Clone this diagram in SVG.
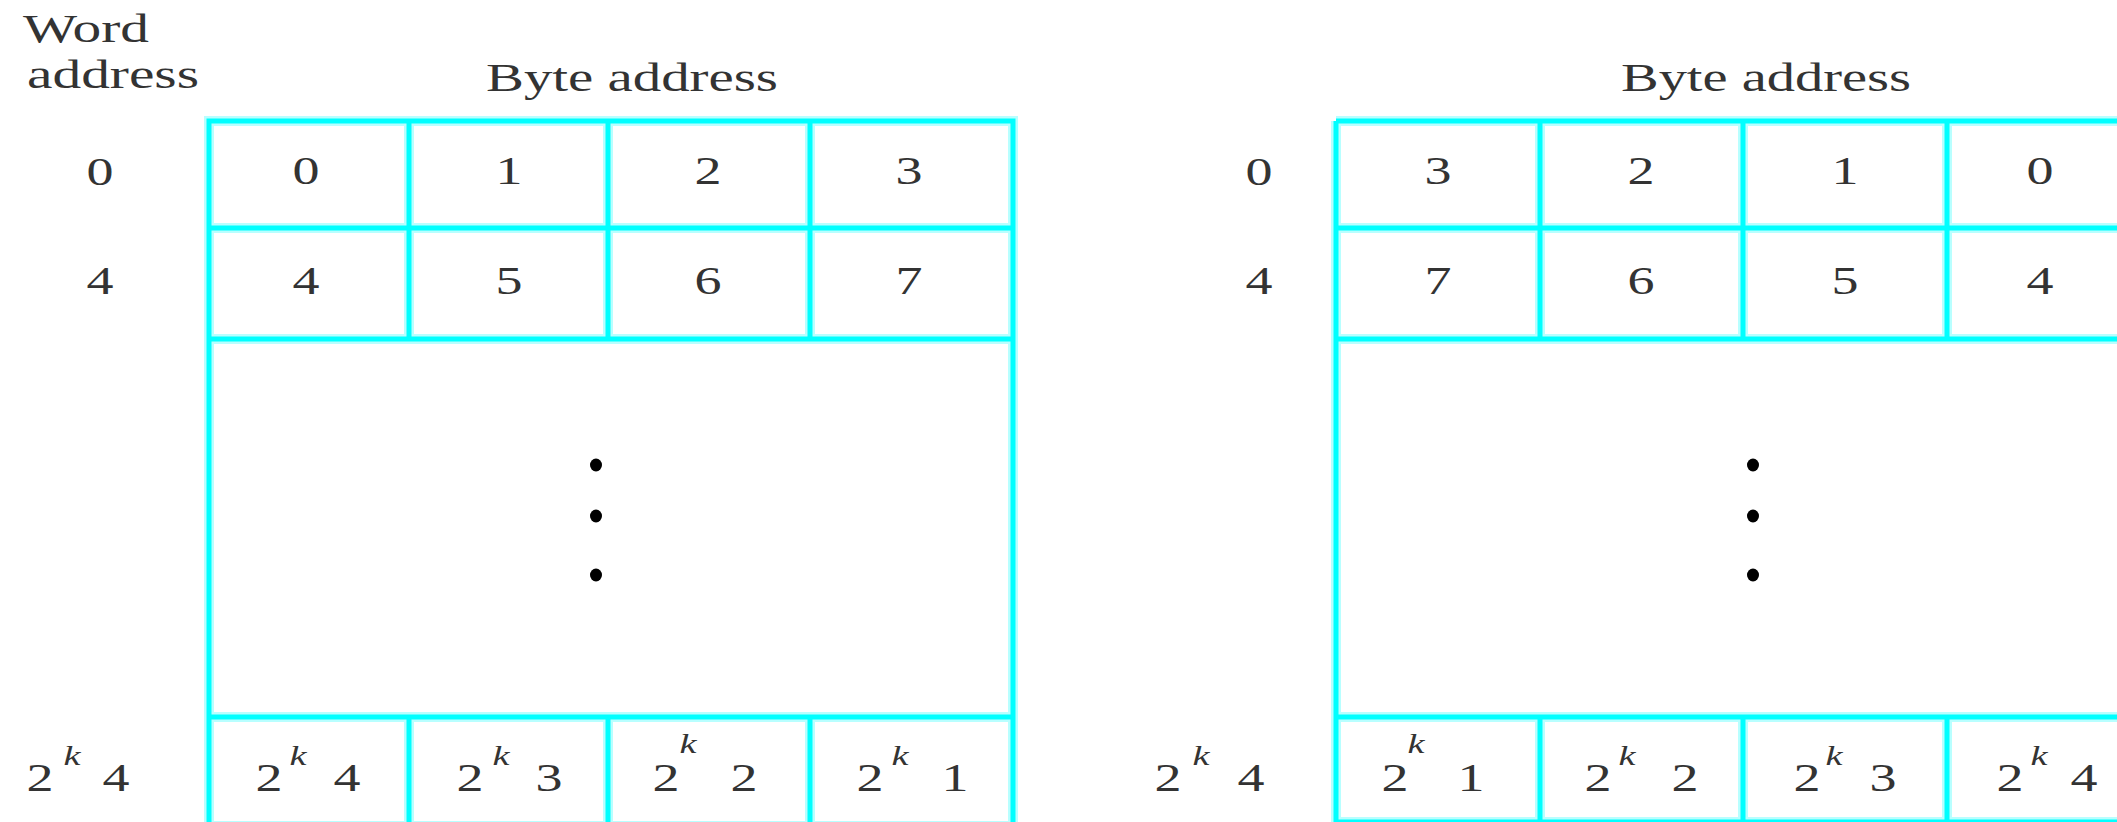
<svg xmlns="http://www.w3.org/2000/svg" width="2117" height="822" viewBox="0 0 2117 822">
<style>
.halo{fill:none;stroke:#b8ffff;stroke-width:10}
.ln{fill:none;stroke:#00ffff;stroke-width:5}
text{font-family:"Liberation Serif","Times New Roman",serif;fill:#333333}
.d{font-size:39px;text-anchor:middle}
.k{font-size:28px;font-style:italic;text-anchor:middle}
.w{font-size:40px}
.dot{fill:#000}
</style>
<rect width="2117" height="822" fill="#fff"/>
<g id="connectors"/>

<!-- Left diagram -->
<g id="left-labels">
  <text class="w" x="23" y="42" textLength="126" lengthAdjust="spacingAndGlyphs">Word</text>
  <text class="w" x="27" y="88" textLength="172" lengthAdjust="spacingAndGlyphs">address</text>
  <text class="w" x="486" y="91" textLength="292" lengthAdjust="spacingAndGlyphs">Byte address</text>
  <text class="d" x="100" y="185" textLength="27" lengthAdjust="spacingAndGlyphs">0</text>
  <text class="d" x="100" y="294" textLength="27" lengthAdjust="spacingAndGlyphs">4</text>
  <g id="left-label-last">
    <text class="d" x="40" y="791" textLength="27" lengthAdjust="spacingAndGlyphs">2</text>
    <text class="k" x="72" y="765" textLength="17" lengthAdjust="spacingAndGlyphs">k</text>
    <text class="d" x="116" y="791" textLength="27" lengthAdjust="spacingAndGlyphs">4</text>
  </g>
</g>
<g id="left-grid">
  <path class="halo" d="M209 121H1013V826H209Z M209 228H1013 M209 339H1013 M209 717H1013 M409 121V339 M608 121V339 M810 121V339 M409 717V826 M608 717V826 M810 717V826"/>
  <path class="ln" d="M209 121H1013V826H209Z M209 228H1013 M209 339H1013 M209 717H1013 M409 121V339 M608 121V339 M810 121V339 M409 717V826 M608 717V826 M810 717V826"/>
</g>
<g id="left-row0">
  <text class="d" x="306" y="184" textLength="27" lengthAdjust="spacingAndGlyphs">0</text>
  <text class="d" x="509" y="184" textLength="27" lengthAdjust="spacingAndGlyphs">1</text>
  <text class="d" x="708" y="184" textLength="27" lengthAdjust="spacingAndGlyphs">2</text>
  <text class="d" x="909" y="184" textLength="27" lengthAdjust="spacingAndGlyphs">3</text>
</g>
<g id="left-row4">
  <text class="d" x="306" y="294" textLength="27" lengthAdjust="spacingAndGlyphs">4</text>
  <text class="d" x="509" y="294" textLength="27" lengthAdjust="spacingAndGlyphs">5</text>
  <text class="d" x="708" y="294" textLength="27" lengthAdjust="spacingAndGlyphs">6</text>
  <text class="d" x="909" y="294" textLength="27" lengthAdjust="spacingAndGlyphs">7</text>
</g>
<g id="left-dots">
  <ellipse class="dot" cx="596" cy="465" rx="6" ry="6.5"/>
  <ellipse class="dot" cx="596" cy="516" rx="6" ry="6.5"/>
  <ellipse class="dot" cx="596" cy="575" rx="6" ry="6.5"/>
</g>
<g id="left-rowlast">
  <g id="L-c1">
    <text class="d" x="269" y="791" textLength="27" lengthAdjust="spacingAndGlyphs">2</text>
    <text class="k" x="298" y="765" textLength="17" lengthAdjust="spacingAndGlyphs">k</text>
    <text class="d" x="347" y="791" textLength="27" lengthAdjust="spacingAndGlyphs">4</text>
  </g>
  <g id="L-c2">
    <text class="d" x="470" y="791" textLength="27" lengthAdjust="spacingAndGlyphs">2</text>
    <text class="k" x="501" y="765" textLength="17" lengthAdjust="spacingAndGlyphs">k</text>
    <text class="d" x="549" y="791" textLength="27" lengthAdjust="spacingAndGlyphs">3</text>
  </g>
  <g id="L-c3">
    <text class="d" x="666" y="791" textLength="27" lengthAdjust="spacingAndGlyphs">2</text>
    <text class="k" x="688" y="753" textLength="17" lengthAdjust="spacingAndGlyphs">k</text>
    <text class="d" x="744" y="791" textLength="27" lengthAdjust="spacingAndGlyphs">2</text>
  </g>
  <g id="L-c4">
    <text class="d" x="870" y="791" textLength="27" lengthAdjust="spacingAndGlyphs">2</text>
    <text class="k" x="900" y="765" textLength="17" lengthAdjust="spacingAndGlyphs">k</text>
    <text class="d" x="955" y="791" textLength="27" lengthAdjust="spacingAndGlyphs">1</text>
  </g>
</g>

<!-- Right diagram -->
<g id="right-labels">
  <text class="w" x="1621" y="91" textLength="290" lengthAdjust="spacingAndGlyphs">Byte address</text>
  <text class="d" x="1259" y="185" textLength="27" lengthAdjust="spacingAndGlyphs">0</text>
  <text class="d" x="1259" y="294" textLength="27" lengthAdjust="spacingAndGlyphs">4</text>
  <g id="right-label-last">
    <text class="d" x="1168" y="791" textLength="27" lengthAdjust="spacingAndGlyphs">2</text>
    <text class="k" x="1201" y="765" textLength="17" lengthAdjust="spacingAndGlyphs">k</text>
    <text class="d" x="1251" y="791" textLength="27" lengthAdjust="spacingAndGlyphs">4</text>
  </g>
</g>
<g id="right-grid">
  <path class="halo" d="M1336 121H2160 M1336 121V826 M1336 228H2160 M1336 339H2160 M1336 717H2160 M1336 822H2160 M1540 121V339 M1743 121V339 M1947 121V339 M1540 717V826 M1743 717V826 M1947 717V826"/>
  <path class="ln" d="M1336 121H2160 M1336 121V826 M1336 228H2160 M1336 339H2160 M1336 717H2160 M1336 822H2160 M1540 121V339 M1743 121V339 M1947 121V339 M1540 717V826 M1743 717V826 M1947 717V826"/>
</g>
<g id="right-row0">
  <text class="d" x="1438" y="184" textLength="27" lengthAdjust="spacingAndGlyphs">3</text>
  <text class="d" x="1641" y="184" textLength="27" lengthAdjust="spacingAndGlyphs">2</text>
  <text class="d" x="1845" y="184" textLength="27" lengthAdjust="spacingAndGlyphs">1</text>
  <text class="d" x="2040" y="184" textLength="27" lengthAdjust="spacingAndGlyphs">0</text>
</g>
<g id="right-row4">
  <text class="d" x="1438" y="294" textLength="27" lengthAdjust="spacingAndGlyphs">7</text>
  <text class="d" x="1641" y="294" textLength="27" lengthAdjust="spacingAndGlyphs">6</text>
  <text class="d" x="1845" y="294" textLength="27" lengthAdjust="spacingAndGlyphs">5</text>
  <text class="d" x="2040" y="294" textLength="27" lengthAdjust="spacingAndGlyphs">4</text>
</g>
<g id="right-dots">
  <ellipse class="dot" cx="1753" cy="465" rx="6" ry="6.5"/>
  <ellipse class="dot" cx="1753" cy="516" rx="6" ry="6.5"/>
  <ellipse class="dot" cx="1753" cy="575" rx="6" ry="6.5"/>
</g>
<g id="right-rowlast">
  <g id="R-c1">
    <text class="d" x="1395" y="791" textLength="27" lengthAdjust="spacingAndGlyphs">2</text>
    <text class="k" x="1416" y="753" textLength="17" lengthAdjust="spacingAndGlyphs">k</text>
    <text class="d" x="1471" y="791" textLength="27" lengthAdjust="spacingAndGlyphs">1</text>
  </g>
  <g id="R-c2">
    <text class="d" x="1598" y="791" textLength="27" lengthAdjust="spacingAndGlyphs">2</text>
    <text class="k" x="1627" y="765" textLength="17" lengthAdjust="spacingAndGlyphs">k</text>
    <text class="d" x="1685" y="791" textLength="27" lengthAdjust="spacingAndGlyphs">2</text>
  </g>
  <g id="R-c3">
    <text class="d" x="1807" y="791" textLength="27" lengthAdjust="spacingAndGlyphs">2</text>
    <text class="k" x="1834" y="765" textLength="17" lengthAdjust="spacingAndGlyphs">k</text>
    <text class="d" x="1883" y="791" textLength="27" lengthAdjust="spacingAndGlyphs">3</text>
  </g>
  <g id="R-c4">
    <text class="d" x="2010" y="791" textLength="27" lengthAdjust="spacingAndGlyphs">2</text>
    <text class="k" x="2039" y="765" textLength="17" lengthAdjust="spacingAndGlyphs">k</text>
    <text class="d" x="2084" y="791" textLength="27" lengthAdjust="spacingAndGlyphs">4</text>
  </g>
</g>
</svg>
